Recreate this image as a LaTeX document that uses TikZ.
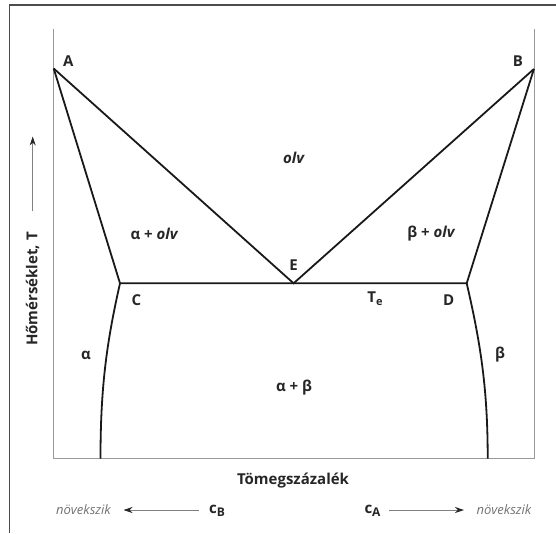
\documentclass[tikz,border=0pt]{standalone}
\usepackage{fontspec}
\setmainfont{Open Sans}
\usetikzlibrary{arrows.meta}
\begin{document}
\begin{tikzpicture}[x=1pt,y=-1pt,
  phase/.style={line width=1.8pt,black!90,line join=miter},
  axis/.style={line width=1pt,black!40},
  lbl/.style={font=\bfseries\fontsize{15}{17}\selectfont,text=black!85,inner sep=0pt},
  growtxt/.style={font=\itshape\fontsize{13}{15}\selectfont,text=black!55,inner sep=0pt},
  garrow/.style={line width=0.9pt,black!50,-{Stealth[length=9pt,width=6pt,black!85]}}]
\useasboundingbox (0,0) rectangle (556,533);
% outer frame (top and left)
\draw[line width=1.6pt,black!70] (9.5,533) -- (9.5,5) -- (556,5);
% axes
\coordinate (TL) at (53.5,28.5);
\coordinate (BL) at (53.5,458.5);
\coordinate (BR) at (534.3,458.5);
\coordinate (TR) at (534.3,28.5);
\draw[axis] (TL) -- (BL) -- (BR) -- (TR);
% phase points
\coordinate (A) at (53.7,68.5);
\coordinate (B) at (533.9,69);
\coordinate (E) at (293.6,283.3);
\coordinate (C) at (120,283.3);
\coordinate (D) at (466.7,283.3);
\coordinate (Cb) at (100.5,458.5);
\coordinate (Db) at (487.7,458.5);
\draw[phase] (A) -- (E) -- (B);
\draw[phase] (A) -- (C) -- (D) -- (B);
\draw[phase] (C) .. controls (106,345) and (100.5,390) .. (Cb);
\draw[phase] (D) .. controls (481,345) and (487.7,390) .. (Db);
% labels
\node[lbl] (lA) at (68.4,61.5) {A};
\node[lbl] (lB) at (518,61) {B};
\node[lbl] (lE) at (293.6,265.5) {E};
\node[lbl] (lC) at (136.5,300.5) {C};
\node[lbl] (lD) at (448.6,300.5) {D};
\node[lbl] (lTe) at (375,299) {T\raisebox{-0.35ex}{\fontsize{11}{12}\selectfont e}};
\node[lbl] (olv) at (293.6,158) {\itshape olv};
\node[lbl] (aolv) at (154,234) {α + \itshape olv};
\node[lbl] (bolv) at (431,234) {β + \itshape olv};
\node[lbl] (al) at (86,355) {α};
\node[lbl] (be) at (500,355) {β};
\node[lbl] (ab) at (294,388) {α + β};
\node[lbl] (tom) at (293,481) {Tömegszázalék};
\node[lbl,rotate=90] (hom) at (32.7,289) {Hőmérséklet, T};
\coordinate (harrS) at (32.7,211);
\coordinate (harrE) at (32.7,136.5);
\draw[garrow] (harrS) -- (harrE);
% bottom row
\node[growtxt] (n1) at (83.5,510) {növekszik};
\node[lbl] (cB) at (217,510.5) {c\raisebox{-0.4ex}{\fontsize{12}{13}\selectfont B}};
\node[lbl] (cA) at (372.5,510.5) {c\raisebox{-0.4ex}{\fontsize{12}{13}\selectfont A}};
\node[growtxt] (n2) at (504,510) {növekszik};
\coordinate (la1) at (198.5,510);
\coordinate (la2) at (123.5,510);
\coordinate (ra1) at (389,510);
\coordinate (ra2) at (464,510);
\draw[garrow] (la1) -- (la2);
\draw[garrow] (ra1) -- (ra2);
\end{tikzpicture}
\end{document}
